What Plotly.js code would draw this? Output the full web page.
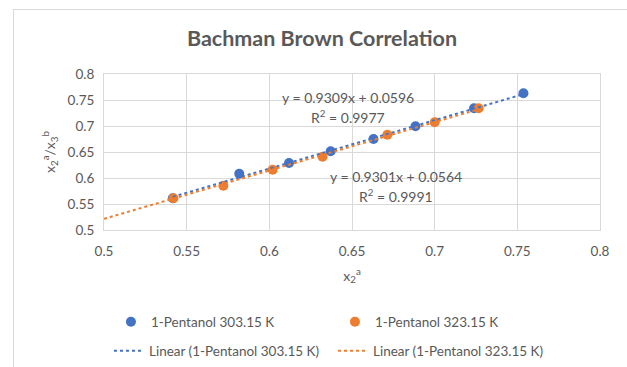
<!DOCTYPE html>
<html>
<head>
<meta charset="utf-8">
<script src="https://cdn.plot.ly/plotly-3.0.1.min.js"></script>
<style>
  html, body { margin: 0; padding: 0; background: #fff; }
  #wrap { position: relative; width: 627px; height: 367px; overflow: hidden; }
  #frame { position: absolute; left: 13px; top: 9px; width: 700px; height: 400px;
           border-left: 1.5px solid #d9d9d9; border-top: 1.5px solid #d9d9d9; pointer-events: none; z-index: 5; }
  #chart { position: absolute; left: 0; top: 0; width: 627px; height: 367px; }
</style>
</head>
<body>
<div id="wrap">
  <div id="chart"></div>
  <div id="frame"></div>
</div>
<script>
// ---- data ----
const seriesNames = ['1-Pentanol 303.15 K', '1-Pentanol 323.15 K'];
const x303 = [0.5416, 0.5818, 0.6119, 0.6371, 0.6630, 0.6884, 0.7238, 0.7537];
const y303 = [0.5610, 0.6083, 0.6288, 0.6513, 0.6750, 0.6994, 0.7340, 0.7629];
const x323 = [0.5420, 0.5722, 0.6020, 0.6322, 0.6714, 0.7000, 0.7266];
const y323 = [0.5610, 0.5852, 0.6160, 0.6410, 0.6833, 0.7071, 0.7340];
const slopes = [0.9309, 0.9301];
const intercepts = [0.0596, 0.0564];
const rSquared = [0.9977, 0.9991];
const trendStart = [Math.min(...x303), 0.5];   // orange trendline is forecast back to the axis minimum
const trendEnd = [Math.max(...x303), Math.max(...x323)];
const xTickVals = [0.5, 0.55, 0.6, 0.65, 0.7, 0.75, 0.8];
const xTickText = ['0.5', '0.55', '0.6', '0.65', '0.7', '0.75', '0.8'];
const yTickVals = [0.5, 0.55, 0.6, 0.65, 0.7, 0.75, 0.8];
const yTickText = ['0.5', '0.55', '0.6', '0.65', '0.7', '0.75', '0.8'];

const colors = ['#4472C4', '#ED7D31'];
const FONT = 'Lato, "Open Sans", sans-serif';
const TXT = '#595959';

function trend(i) {
  const xs = [trendStart[i], trendEnd[i]];
  return { x: xs, y: xs.map(v => slopes[i] * v + intercepts[i]) };
}

const traces = [
  { x: x303, y: y303, type: 'scatter', mode: 'markers', name: seriesNames[0],
    marker: { color: colors[0], size: 10 }, legend: 'legend' },
  { x: x323, y: y323, type: 'scatter', mode: 'markers', name: seriesNames[1],
    marker: { color: colors[1], size: 10 }, legend: 'legend' },
];
[0, 1].forEach(i => {
  const t = trend(i);
  traces.push({ x: t.x, y: t.y, type: 'scatter', mode: 'lines',
    name: 'Linear (' + seriesNames[i] + ')',
    line: { color: colors[i], width: 2, dash: 'dot' }, legend: 'legend2' });
});

const fmt = (v, d) => v.toFixed(d);
const annFont = { family: FONT, size: 14, color: TXT };
const annotations = [
  { x: 0.6476, y: 0.7544, text: 'y = ' + fmt(slopes[0], 4) + 'x + ' + fmt(intercepts[0], 4) },
  { x: 0.6476, y: 0.7179, text: 'R<sup>2</sup> = ' + fmt(rSquared[0], 4) },
  { x: 0.6766, y: 0.6025, text: 'y = ' + fmt(slopes[1], 4) + 'x + ' + fmt(intercepts[1], 4) },
  { x: 0.6766, y: 0.5673, text: 'R<sup>2</sup> = ' + fmt(rSquared[1], 4) },
].map(a => Object.assign({ xref: 'x', yref: 'y', showarrow: false, font: annFont,
  xanchor: 'center', yanchor: 'middle' }, a));

const axisCommon = {
  showgrid: true, gridcolor: '#d9d9d9', gridwidth: 1,
  showline: true, linecolor: '#d9d9d9', linewidth: 1, mirror: true,
  zeroline: false, ticks: '', tickfont: { family: FONT, size: 13.5, color: TXT },
  tickmode: 'array', fixedrange: true, automargin: false,
};

const legFont = { family: FONT, size: 13.5, color: TXT };

const layout = {
  width: 627, height: 367,
  margin: { l: 104, r: 27, t: 74, b: 137, autoexpand: false },
  paper_bgcolor: 'rgba(0,0,0,0)', plot_bgcolor: '#fff',
  font: { family: FONT, color: TXT },
  title: { text: '<b>Bachman Brown Correlation</b>', x: 322 / 627, xref: 'container', xanchor: 'center',
           y: 1 - 38 / 367, yref: 'container', yanchor: 'middle',
           font: { family: FONT, size: 21.5, color: TXT } },
  xaxis: Object.assign({}, axisCommon, {
    range: [0.5, 0.8], tickvals: xTickVals, ticktext: xTickText, ticklabelstandoff: 9,
    title: { text: 'x<sub>2</sub><sup>a</sup>', font: { family: FONT, size: 14, color: TXT }, standoff: 12 },
  }),
  yaxis: Object.assign({}, axisCommon, {
    range: [0.5, 0.8], tickvals: yTickVals, ticktext: yTickText, ticklabelstandoff: 6,
    title: { text: 'x<sub>2</sub><sup>a</sup>/x<sub>3</sub><sup>b</sup>', font: { family: FONT, size: 14, color: TXT }, standoff: 8 },
  }),
  legend: { orientation: 'h', x: 0.014, xanchor: 'left', y: -0.59, yanchor: 'middle',
            entrywidth: 179, entrywidthmode: 'pixels', bgcolor: 'rgba(0,0,0,0)', font: legFont },
  legend2: { orientation: 'h', x: 0.01, xanchor: 'left', y: -0.776, yanchor: 'middle',
            entrywidth: 179, entrywidthmode: 'pixels', bgcolor: 'rgba(0,0,0,0)', font: legFont },
  showlegend: true,
  annotations: annotations,
};

Plotly.newPlot('chart', traces, layout, { displayModeBar: false, staticPlot: true });
</script>
</body>
</html>
